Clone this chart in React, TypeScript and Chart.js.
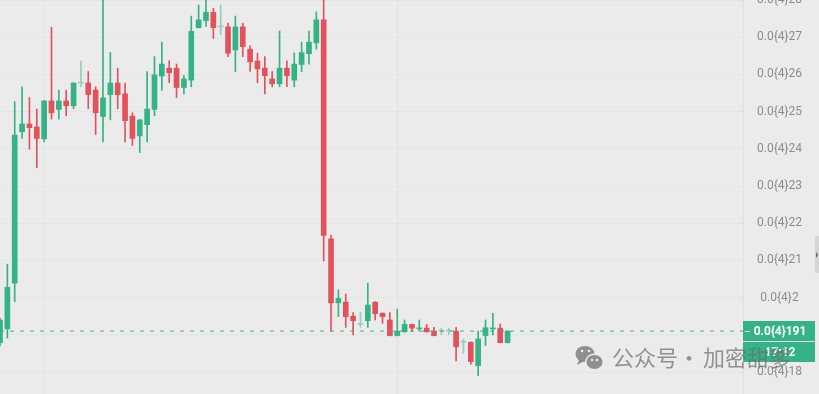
import React, { useEffect, useRef } from "react";
import { Chart, registerables } from "chart.js";

Chart.register(...registerables);

// ---- data (prices in units of 0.0{4}xx, i.e. 1e-6) ----
const openPrices = [
  18.79, 19.16, 20.39, 24.46, 24.67, 24.59, 24.27, 25.29, 25.06, 25.29,
  25.16, 25.77, 25.77, 25.58, 24.87, 25.46, 25.77, 25.48, 24.88, 24.35,
  24.65, 25.06, 25.96, 26.17, 26.17, 25.65, 25.85, 27.26, 27.45, 27.67,
  27.28, 27.28, 26.66, 27.28, 26.68, 26.36, 26.17, 25.88, 25.75, 26.17,
  25.85, 26.27, 26.56, 26.85, 27.47, 21.58, 19.86, 19.88, 19.5, 19.28,
  19.38, 19.88, 19.58, 19.4, 18.98, 19.08, 19.28, 19.16, 19.18, 19.1,
  19.1, 19.1, 19.1, 18.8, 18.8, 18.17, 18.98, 19.16, 19.18, 18.79,
];
const highPrices = [
  19.45, 20.9, 25.27, 25.67, 25.38, 25.07, 25.3, 27.27, 25.58, 25.58,
  25.78, 26.36, 26.08, 25.67, 28.0, 26.59, 26.17, 25.77, 24.97, 24.79,
  26.08, 26.48, 26.87, 26.37, 26.28, 25.98, 27.57, 27.87, 28.05, 27.78,
  27.87, 27.38, 27.57, 27.38, 26.77, 26.57, 26.48, 26.08, 27.17, 26.37,
  26.58, 26.87, 27.17, 27.68, 28.2, 21.68, 20.21, 20.1, 19.6, 19.6,
  20.39, 19.89, 19.59, 19.6, 19.69, 19.4, 19.29, 19.4, 19.28, 19.2,
  19.18, 19.18, 19.2, 18.89, 18.81, 19.1, 19.4, 19.58, 19.29, 19.11,
];
const lowPrices = [
  18.7, 18.91, 19.89, 24.28, 23.99, 23.49, 24.19, 24.8, 24.8, 24.89,
  25.08, 25.67, 25.08, 24.39, 24.19, 24.78, 25.08, 24.19, 24.09, 23.9,
  24.19, 24.89, 25.58, 25.78, 25.38, 25.48, 25.67, 27.25, 27.29, 26.97,
  27.07, 26.48, 26.08, 26.48, 26.08, 25.78, 25.48, 25.67, 25.67, 25.67,
  25.67, 26.08, 26.28, 26.68, 20.99, 19.1, 19.49, 19.2, 19.0, 19.2,
  19.2, 19.4, 19.31, 18.97, 18.97, 19.07, 19.1, 19.1, 19.07, 18.97,
  19.0, 19.0, 18.3, 18.5, 18.21, 17.9, 18.71, 19.0, 18.78, 18.78,
];
const closePrices = [
  19.4, 20.28, 24.37, 24.67, 24.57, 24.28, 25.29, 24.97, 25.29, 25.16,
  25.77, 25.77, 25.46, 24.97, 25.37, 25.77, 25.46, 24.76, 24.28, 24.78,
  25.07, 25.99, 26.28, 26.05, 25.65, 25.88, 27.16, 27.47, 27.67, 27.26,
  27.28, 26.57, 27.28, 26.75, 26.34, 26.15, 25.97, 25.75, 26.17, 25.97,
  26.28, 26.59, 26.87, 27.47, 21.67, 19.86, 19.98, 19.49, 19.38, 19.28,
  19.8, 19.57, 19.49, 18.98, 19.1, 19.28, 19.18, 19.18, 19.08, 18.98,
  19.1, 19.1, 18.68, 18.8, 18.28, 18.89, 19.19, 19.18, 18.79, 19.1,
];
const fadedCandles = [11, 30, 49, 60, 61, 63];
const slotCount = 102;
const yTickValues = [18, 19, 20, 21, 22, 23, 24, 25, 26, 27, 28];
const yMin = 17.409;
const yMax = 28.003;
const verticalGridSlots = [6, 54];
const currentPrice = 19.1;
const priceLabel = "0.0{4}191";
const timerLabel = "17:12";
const watermarkLeft = "公众号";
const watermarkDot = "·";
const watermarkRight = "加密甜爹";

const GREEN = "#33b386";
const RED = "#e1525c";
const FADED = "#93cfb9";
const BG = "#ebebeb";

const formatTick = (v: number) =>
  v === 20 ? "0.0{4}2" : "0.0{4}" + String(v);

const overlayPlugin = {
  id: "overlay",
  beforeDraw(chart: any) {
    const { ctx, width, height } = chart;
    ctx.save();
    ctx.fillStyle = BG;
    ctx.fillRect(0, 0, width, height);
    ctx.restore();
  },
  afterDraw(chart: any) {
    const { ctx, chartArea } = chart;
    const ys = chart.scales.y;
    const py = Math.round(ys.getPixelForValue(currentPrice));
    const bx = chartArea.right;
    const bw = 72;
    ctx.save();
    // price tag
    ctx.fillStyle = GREEN;
    ctx.fillRect(bx, py - 10, bw, 20);
    ctx.fillRect(bx, py + 11, bw, 20);
    ctx.strokeStyle = "#ffffff";
    ctx.lineWidth = 1;
    ctx.beginPath();
    ctx.moveTo(bx + 2, py + 0.5);
    ctx.lineTo(bx + 7, py + 0.5);
    ctx.stroke();
    ctx.fillStyle = "#ffffff";
    ctx.font = "bold 12px Roboto";
    ctx.textAlign = "center";
    ctx.textBaseline = "middle";
    ctx.fillText(priceLabel, bx + 37, py + 1);
    ctx.fillText(timerLabel, bx + 37, py + 22);

    // scrollbar handle at right edge
    ctx.fillStyle = "#d6d6d6";
    ctx.fillRect(chart.width - 4, 236, 4, 37);
    ctx.fillStyle = "#666666";
    ctx.beginPath();
    ctx.moveTo(chart.width - 3, 252);
    ctx.lineTo(chart.width - 1, 255);
    ctx.lineTo(chart.width - 3, 258);
    ctx.fill();

    // watermark
    ctx.fillStyle = "rgba(120,120,120,0.8)";
    ctx.beginPath();
    ctx.ellipse(585, 354, 9.5, 8, 0, 0, Math.PI * 2);
    ctx.fill();
    ctx.beginPath();
    ctx.moveTo(579, 360);
    ctx.lineTo(577, 365);
    ctx.lineTo(584, 361);
    ctx.fill();
    ctx.fillStyle = BG;
    ctx.beginPath();
    ctx.ellipse(594.5, 362, 9.5, 8.5, 0, 0, Math.PI * 2);
    ctx.fill();
    ctx.fillStyle = "rgba(120,120,120,0.8)";
    ctx.beginPath();
    ctx.ellipse(594.5, 362, 8, 7, 0, 0, Math.PI * 2);
    ctx.fill();
    ctx.fillStyle = BG;
    [[582, 351], [589, 351], [592, 360], [597, 360]].forEach(([x, y]) => {
      ctx.beginPath();
      ctx.arc(x, y, 1.3, 0, Math.PI * 2);
      ctx.fill();
    });
    ctx.fillStyle = "rgba(110,110,110,0.72)";
    ctx.font = "22px 'Noto Sans CJK SC'";
    ctx.textAlign = "left";
    ctx.textBaseline = "middle";
    ctx.fillText(watermarkLeft, 612, 358);
    ctx.textAlign = "center";
    ctx.fillText(watermarkDot, 689, 358);
    ctx.textAlign = "left";
    ctx.fillText(watermarkRight, 703, 358);
    ctx.restore();
  },
};

export default function App() {
  const canvasRef = useRef<HTMLCanvasElement>(null);

  useEffect(() => {
    const canvas = canvasRef.current;
    if (!canvas) return;
    const labels = Array.from({ length: slotCount }, (_, i) => String(i));
    const colors = openPrices.map((o, i) =>
      fadedCandles.includes(i) ? FADED : closePrices[i] >= o ? GREEN : RED
    );
    const bodies = openPrices.map((o, i) => [
      Math.min(o, closePrices[i]),
      Math.max(o, closePrices[i]),
    ]);
    const wicks = lowPrices.map((l, i) => [l, highPrices[i]]);
    const priceLine = labels.map(() => currentPrice);

    const chart = new Chart(canvas, {
      type: "bar",
      data: {
        labels,
        datasets: [
          {
            type: "line",
            data: priceLine,
            borderColor: GREEN,
            borderWidth: 1,
            borderDash: [4, 6],
            pointRadius: 0,
            order: 0,
          } as any,
          {
            data: bodies as any,
            backgroundColor: colors,
            borderWidth: 0,
            barThickness: 5,
            minBarLength: 1,
            grouped: false,
            order: 1,
          },
          {
            data: wicks as any,
            backgroundColor: colors,
            borderWidth: 0,
            barThickness: 1,
            grouped: false,
            order: 2,
          },
        ],
      },
      options: {
        animation: false,
        responsive: true,
        maintainAspectRatio: false,
        layout: { autoPadding: false, padding: 0 },
        plugins: {
          legend: { display: false },
          tooltip: { enabled: false },
        },
        scales: {
          x: {
            type: "category",
            offset: false,
            ticks: { display: false },
            grid: { offset: false, color: "#e2e2e2", drawTicks: false },
            border: { display: false },
            afterBuildTicks: (scale: any) => {
              scale.ticks = verticalGridSlots.map((v) => ({ value: v }));
            },
            afterFit: (scale: any) => {
              scale.height = 0;
              scale.paddingLeft = 0;
              scale.paddingRight = 0;
              scale.paddingTop = 0;
              scale.paddingBottom = 0;
            },
          },
          y: {
            type: "linear",
            position: "right",
            min: yMin,
            max: yMax,
            bounds: "data",
            afterBuildTicks: (scale: any) => {
              scale.ticks = yTickValues.map((v) => ({ value: v }));
            },
            afterFit: (scale: any) => {
              scale.width = 76;
              scale.paddingTop = 0;
              scale.paddingBottom = 0;
              scale.paddingLeft = 0;
              scale.paddingRight = 0;
            },
            ticks: {
              callback: (v: any) => formatTick(Number(v)),
              color: "#8c8c8c",
              font: { family: "Roboto", size: 12 },
              padding: 14,
              crossAlign: "center",
            },
            grid: { color: "#e4e4e4", drawTicks: false },
            border: { display: true, color: "#e0e0e0" },
          },
        },
      },
      plugins: [overlayPlugin],
    } as any);
    return () => chart.destroy();
  }, []);

  return (
    <div
      style={{
        position: "fixed",
        left: 0,
        top: 0,
        width: 819,
        height: 394,
        background: BG,
      }}
    >
      <canvas ref={canvasRef} />
    </div>
  );
}
